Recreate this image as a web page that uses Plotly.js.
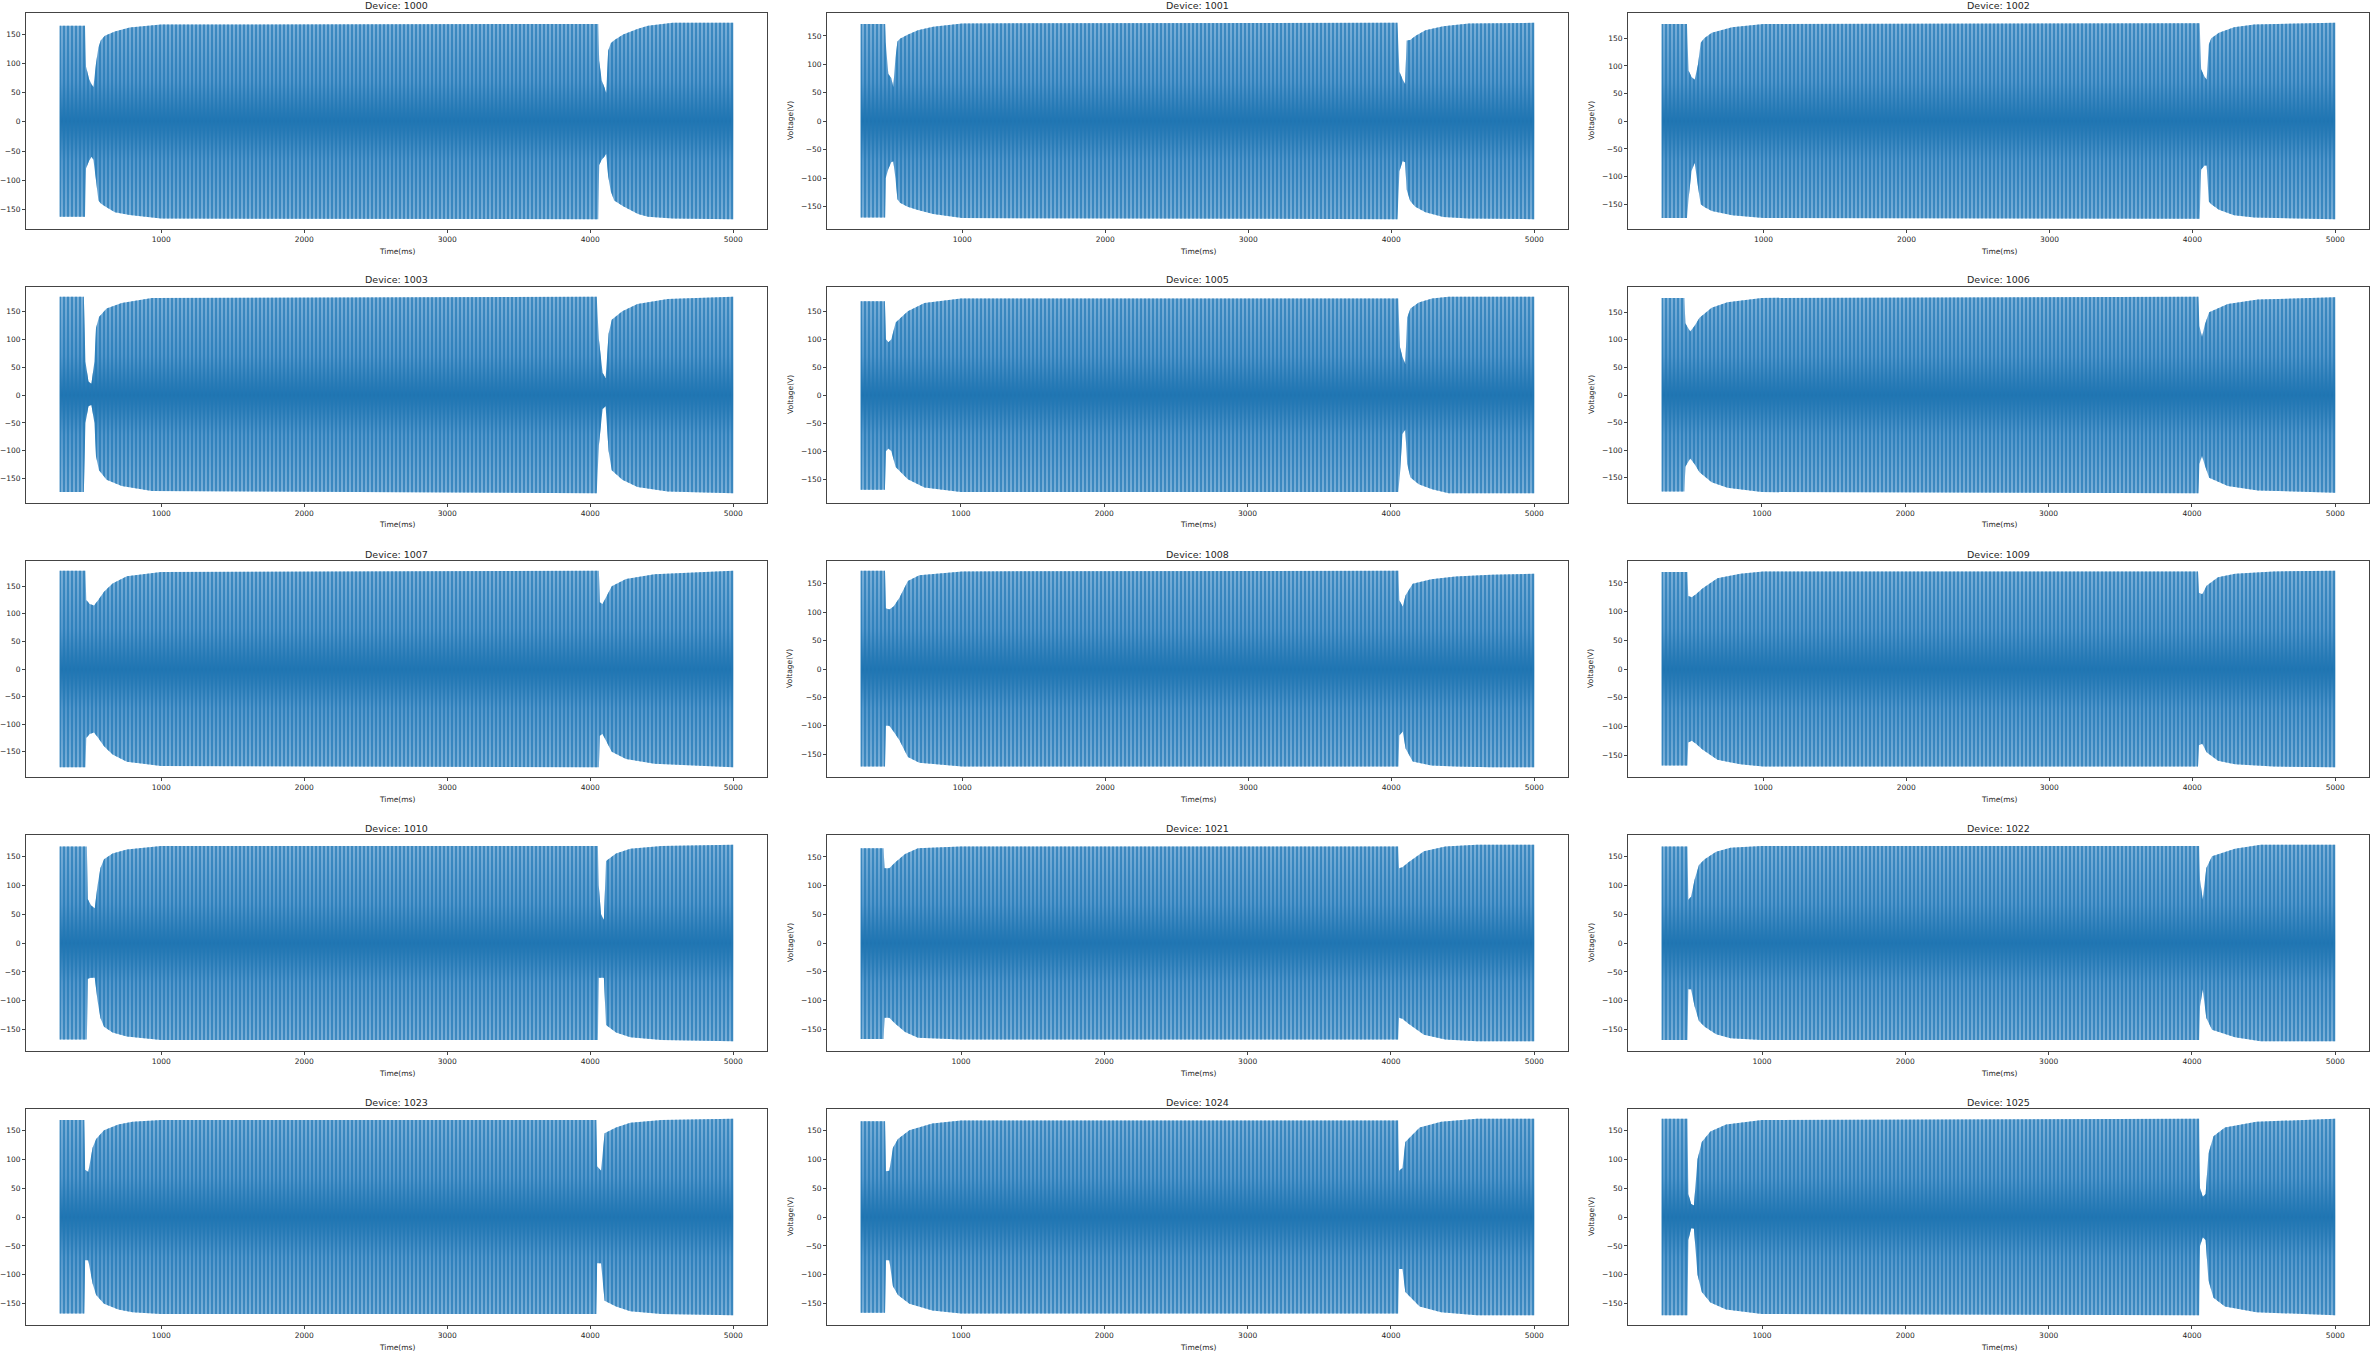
<!DOCTYPE html>
<html><head><meta charset="utf-8">
<script src="https://cdn.plot.ly/plotly-3.0.1.min.js"></script>
<style>html,body{margin:0;padding:0;background:#fff;}#chart{width:2376px;height:1353px;}</style>
</head><body><div id="chart"></div>
<script>
// ---- Data: envelope of each device's voltage waveform (Time ms, upper V, lower V) ----
const devices = ['1000','1001','1002','1003','1005','1006','1007','1008','1009','1010','1021','1022','1023','1024','1025'];

const time_1000  = [290, 467, 474, 495, 513, 526, 544, 561, 578, 606, 676, 780, 1000, 4056, 4062, 4080, 4098, 4111, 4125, 4143, 4167, 4230, 4334, 4404, 4578, 5000];
const upper_1000 = [165, 165, 95, 74, 64, 60, 100, 128, 140, 148, 155, 162, 167, 168, 105, 71, 60, 50, 122, 135, 140, 150, 160, 165, 170, 170];
const lower_1000 = [-163, -163, -80, -67, -60, -65, -100, -135, -140, -145, -155, -160, -166, -167, -74, -65, -60, -55, -93, -119, -135, -145, -158, -163, -166, -167];

const time_1001  = [290, 461, 465, 483, 504, 518, 533, 547, 565, 618, 690, 797, 1000, 4043, 4057, 4079, 4097, 4107, 4132, 4168, 4239, 4364, 4543, 5000];
const upper_1001 = [171, 171, 139, 83, 76, 60, 111, 140, 145, 152, 160, 166, 172, 173, 87, 74, 65, 142, 143, 150, 160, 167, 172, 173];
const lower_1001 = [-169, -169, -100, -84, -72, -70, -100, -137, -143, -150, -156, -163, -170, -172, -88, -70, -72, -120, -140, -150, -160, -168, -171, -172];

const time_1002  = [287, 464, 475, 496, 518, 542, 560, 585, 638, 780, 1000, 4051, 4061, 4086, 4100, 4115, 4132, 4186, 4292, 4434, 5000];
const upper_1002 = [176, 176, 92, 80, 75, 104, 142, 150, 160, 170, 176, 177, 94, 80, 75, 139, 150, 160, 170, 175, 178];
const lower_1002 = [-175, -175, -140, -90, -75, -120, -150, -155, -162, -170, -175, -176, -87, -80, -80, -145, -150, -160, -170, -174, -177];

const time_1003  = [290, 459, 470, 491, 512, 533, 544, 565, 618, 724, 936, 4045, 4060, 4086, 4107, 4128, 4150, 4224, 4330, 4542, 5000];
const upper_1003 = [176, 176, 60, 24, 20, 60, 120, 140, 155, 165, 174, 176, 100, 40, 30, 110, 135, 150, 163, 172, 176];
const lower_1003 = [-174, -174, -50, -20, -18, -50, -110, -135, -152, -163, -172, -176, -90, -25, -20, -100, -135, -152, -165, -173, -176];

const time_1005  = [301, 470, 477, 495, 515, 545, 630, 746, 1000, 4051, 4063, 4080, 4100, 4113, 4136, 4194, 4287, 4403, 5000];
const upper_1005 = [168, 168, 100, 95, 100, 130, 150, 165, 173, 173, 86, 69, 56, 139, 155, 166, 173, 176, 176];
const lower_1005 = [-169, -169, -100, -95, -100, -128, -150, -165, -173, -173, -140, -69, -61, -123, -147, -159, -168, -175, -175];

const time_1006  = [301, 460, 466, 500, 530, 565, 650, 760, 1000, 4045, 4052, 4070, 4090, 4120, 4250, 4460, 5000];
const upper_1006 = [176, 176, 130, 115, 125, 140, 158, 168, 176, 178, 125, 105, 128, 150, 165, 173, 177];
const lower_1006 = [-175, -175, -130, -115, -125, -140, -158, -168, -176, -178, -125, -110, -128, -150, -165, -173, -177];

const time_1007  = [290, 470, 476, 500, 530, 560, 600, 660, 760, 1000, 4060, 4066, 4085, 4100, 4150, 4250, 4450, 5000];
const upper_1007 = [178, 178, 125, 118, 115, 125, 140, 155, 168, 176, 178, 121, 118, 125, 150, 163, 172, 178];
const lower_1007 = [-178, -178, -125, -118, -115, -125, -140, -155, -168, -176, -178, -121, -118, -125, -150, -163, -172, -178];

const time_1008  = [290, 460, 466, 490, 520, 560, 620, 700, 1000, 4050, 4056, 4080, 4100, 4150, 4280, 4450, 4700, 5000];
const upper_1008 = [173, 173, 107, 105, 110, 125, 155, 165, 172, 173, 121, 110, 130, 150, 158, 163, 166, 168];
const lower_1008 = [-172, -172, -100, -100, -110, -125, -155, -165, -172, -172, -117, -110, -140, -163, -170, -172, -173, -173];

const time_1009  = [290, 470, 476, 500, 530, 575, 680, 840, 1000, 4040, 4046, 4070, 4100, 4180, 4300, 4570, 5000];
const upper_1009 = [169, 169, 127, 125, 130, 140, 158, 166, 170, 170, 133, 130, 145, 160, 166, 170, 171];
const lower_1009 = [-168, -168, -128, -125, -130, -140, -158, -166, -170, -170, -133, -130, -145, -160, -166, -170, -171];

const time_1010  = [290, 480, 486, 510, 535, 555, 575, 600, 660, 760, 1000, 4053, 4059, 4075, 4095, 4110, 4180, 4280, 4500, 5000];
const upper_1010 = [167, 167, 76, 65, 60, 100, 130, 145, 155, 162, 168, 168, 100, 50, 40, 142, 155, 163, 168, 170];
const lower_1010 = [-167, -167, -62, -60, -60, -100, -130, -145, -155, -162, -168, -168, -60, -60, -60, -142, -155, -163, -168, -170];

const time_1021  = [300, 460, 466, 500, 540, 610, 700, 1000, 4050, 4056, 4080, 4120, 4230, 4380, 4600, 5000];
const upper_1021 = [165, 165, 130, 130, 140, 155, 165, 168, 168, 130, 132, 140, 160, 168, 171, 171];
const lower_1021 = [-167, -167, -130, -130, -140, -155, -165, -168, -168, -130, -132, -140, -160, -168, -171, -171];

const time_1022  = [300, 480, 486, 505, 530, 560, 600, 680, 780, 1000, 4050, 4056, 4075, 4100, 4140, 4300, 4480, 5000];
const upper_1022 = [167, 167, 75, 80, 110, 135, 145, 158, 165, 168, 168, 110, 75, 130, 150, 163, 170, 170];
const lower_1022 = [-168, -168, -80, -80, -110, -135, -145, -158, -165, -168, -168, -110, -80, -130, -150, -163, -170, -170];

const time_1023  = [290, 462, 468, 490, 520, 545, 600, 700, 800, 1000, 4042, 4048, 4075, 4100, 4180, 4280, 4500, 5000];
const upper_1023 = [168, 168, 82, 78, 120, 135, 150, 160, 165, 168, 168, 88, 80, 145, 155, 163, 168, 170];
const lower_1023 = [-167, -167, -75, -75, -115, -135, -150, -160, -165, -168, -168, -80, -80, -145, -155, -163, -168, -170];

const time_1024  = [300, 470, 476, 500, 525, 560, 640, 800, 1000, 4050, 4056, 4080, 4100, 4200, 4350, 4600, 5000];
const upper_1024 = [166, 166, 79, 80, 120, 135, 150, 162, 167, 167, 80, 85, 130, 155, 165, 170, 170];
const lower_1024 = [-166, -166, -75, -75, -120, -135, -150, -162, -167, -167, -90, -90, -130, -155, -165, -170, -170];

const time_1025  = [300, 480, 486, 505, 525, 550, 580, 640, 750, 1000, 4050, 4056, 4075, 4095, 4115, 4150, 4230, 4450, 5000];
const upper_1025 = [170, 170, 40, 23, 20, 100, 130, 148, 160, 168, 170, 50, 35, 40, 110, 140, 155, 165, 170];
const lower_1025 = [-170, -170, -40, -20, -20, -100, -130, -148, -160, -168, -170, -50, -35, -40, -110, -140, -155, -165, -170];

const xTickVals = [1000, 2000, 3000, 4000, 5000];
const xTickText = ['1000', '2000', '3000', '4000', '5000'];
const yTickVals = [-150, -100, -50, 0, 50, 100, 150];
const yTickText = ['\u2212150', '\u2212100', '\u221250', '0', '50', '100', '150'];
const titlePrefix = 'Device: ';
const xLabel = 'Time(ms)';
const yLabel = 'Voltage(V)';

const series = {
  '1000': [time_1000, upper_1000, lower_1000], '1001': [time_1001, upper_1001, lower_1001],
  '1002': [time_1002, upper_1002, lower_1002], '1003': [time_1003, upper_1003, lower_1003],
  '1005': [time_1005, upper_1005, lower_1005], '1006': [time_1006, upper_1006, lower_1006],
  '1007': [time_1007, upper_1007, lower_1007], '1008': [time_1008, upper_1008, lower_1008],
  '1009': [time_1009, upper_1009, lower_1009], '1010': [time_1010, upper_1010, lower_1010],
  '1021': [time_1021, upper_1021, lower_1021], '1022': [time_1022, upper_1022, lower_1022],
  '1023': [time_1023, upper_1023, lower_1023], '1024': [time_1024, upper_1024, lower_1024],
  '1025': [time_1025, upper_1025, lower_1025]
};

// ---- Layout geometry (pixels) ----
const W = 2376, H = 1353;
const colLeft = [26, 827, 1628], colRight = [767, 1568, 2369];
const rowTop = [13, 287, 561, 835, 1109], rowH = 216;
const FONT = 'DejaVu Sans, Liberation Sans, sans-serif';
const TXT = '#262626';

const traces = [];
const layout = {
  width: W, height: H, margin: {l: 0, r: 0, t: 0, b: 0},
  paper_bgcolor: '#ffffff', plot_bgcolor: '#ffffff', showlegend: false,
  font: {family: FONT, color: TXT, size: 8},
  annotations: []
};

devices.forEach((dev, i) => {
  const r = Math.floor(i / 3), c = i % 3;
  const sfx = i === 0 ? '' : String(i + 1);
  const xa = 'x' + sfx, ya = 'y' + sfx;
  const [t, up, lo] = series[dev];
  const px = t.concat(t.slice().reverse());
  const py = up.concat(lo.slice().reverse());

  traces.push({
    type: 'scatter', x: px, y: py, xaxis: xa, yaxis: ya, mode: 'none', fill: 'toself',
    fillgradient: {type: 'vertical', colorscale: [[0, '#7aafd8'], [0.3, '#5296cb'], [0.45, '#2a7bb6'], [0.5, '#1f74b1'], [0.55, '#2a7bb6'], [0.7, '#5296cb'], [1, '#7aafd8']]},
    hoverinfo: 'skip'
  });
  traces.push({
    type: 'scatter', x: px, y: py, xaxis: xa, yaxis: ya, mode: 'none', fill: 'toself',
    fillcolor: 'rgba(0,0,0,0)',
    fillpattern: {shape: '|', fgcolor: '#1f77b4', fgopacity: 0.85, bgcolor: 'rgba(0,0,0,0)', size: 4, solidity: 0.4},
    hoverinfo: 'skip'
  });

  const tmin = Math.min(...t), tmax = Math.max(...t);
  const vmin = Math.min(...lo), vmax = Math.max(...up);
  const mx = (tmax - tmin) * 0.05, my = (vmax - vmin) * 0.05;

  const axCommon = {
    showline: true, mirror: true, linecolor: '#444', linewidth: 1,
    ticks: 'outside', ticklen: 3, tickwidth: 1, tickcolor: '#444',
    showgrid: false, zeroline: false, fixedrange: true,
    tickfont: {family: FONT, size: 7.5, color: TXT}
  };
  layout['xaxis' + sfx] = Object.assign({}, axCommon, {
    domain: [colLeft[c] / W, colRight[c] / W], anchor: ya,
    range: [tmin - mx, tmax + mx], tickvals: xTickVals, ticktext: xTickText
  });
  layout['yaxis' + sfx] = Object.assign({}, axCommon, {
    domain: [1 - (rowTop[r] + rowH) / H, 1 - rowTop[r] / H], anchor: xa,
    range: [vmin - my, vmax + my], tickvals: yTickVals, ticktext: yTickText
  });

  const cx = (colLeft[c] + colRight[c]) / 2 / W;
  layout.annotations.push({
    text: titlePrefix + dev, xref: 'paper', yref: 'paper', x: cx, y: 1 - (rowTop[r] - 7) / H,
    xanchor: 'center', yanchor: 'middle', showarrow: false, font: {family: FONT, size: 9.5, color: TXT}
  });
  layout.annotations.push({
    text: xLabel, xref: 'paper', yref: 'paper', x: cx, y: 1 - (rowTop[r] + rowH + 22) / H,
    xanchor: 'center', yanchor: 'middle', showarrow: false, font: {family: FONT, size: 7.5, color: TXT}
  });
  if (c > 0) {
    layout.annotations.push({
      text: yLabel, xref: 'paper', yref: 'paper', x: (colLeft[c] - 37) / W, y: 1 - (rowTop[r] + rowH / 2) / H,
      xanchor: 'center', yanchor: 'middle', textangle: -90, showarrow: false, font: {family: FONT, size: 7.5, color: TXT}
    });
  }
});

Plotly.newPlot('chart', traces, layout, {staticPlot: true, displayModeBar: false});
</script>
</body></html>
